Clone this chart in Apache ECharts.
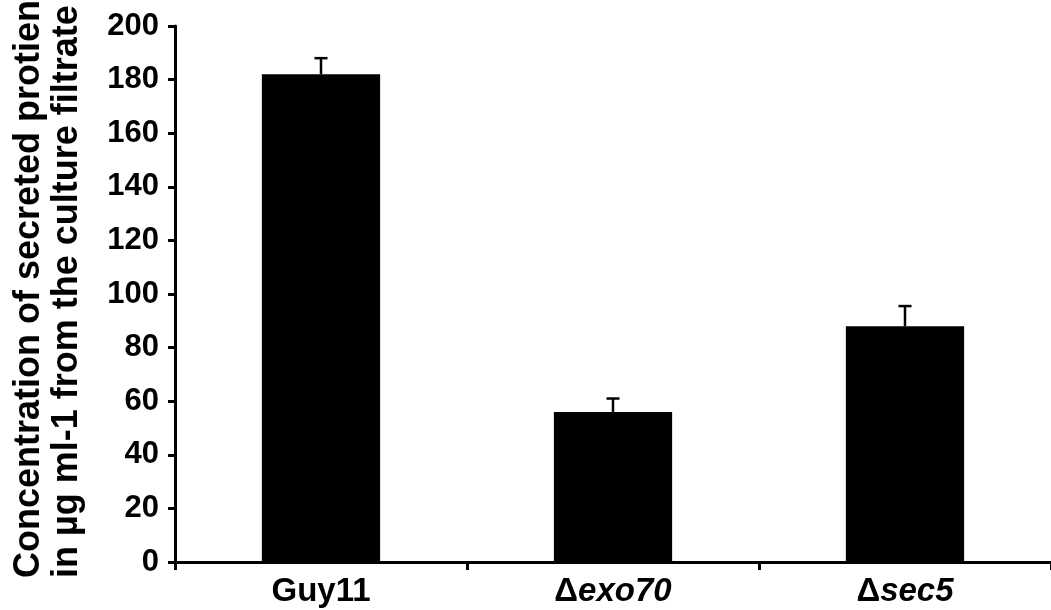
<!DOCTYPE html>
<html>
<head>
<meta charset="utf-8">
<script src="https://cdn.jsdelivr.net/npm/echarts@6/dist/echarts.min.js"></script>
<style>html,body{margin:0;padding:0;background:#fff;}#c{width:1051px;height:610px;}</style>
</head>
<body>
<div id="c"></div>
<script>
var categories = ['Guy11', 'exo70', 'sec5'];
var categoryLabels = ['Guy11', '{d|Δ}{i|exo70}', '{d|Δ}{i|sec5}'];
var values = [182, 56, 88];
var errors = [6, 5, 7.5];
var yTicks = [0, 20, 40, 60, 80, 100, 120, 140, 160, 180, 200];
var yNameLines = ['Concentration of secreted protien', 'in µg ml-1 from the culture filtrate'];

var chart = echarts.init(document.getElementById('c'));
var font = 'Liberation Sans, Arial, Helvetica, sans-serif';
chart.setOption({
  animation: false,
  backgroundColor: '#fff',
  grid: { left: 175, top: 26, height: 536, width: 883 },
  xAxis: {
    type: 'category',
    data: categories,
    boundaryGap: true,
    axisLine: { lineStyle: { color: '#000', width: 3 } },
    axisTick: { show: true, length: 8, lineStyle: { color: '#000', width: 3 } },
    axisLabel: {
      margin: 13,
      color: '#000',
      fontFamily: font,
      fontWeight: 'bold',
      fontSize: 33,
      formatter: function (v, i) { return categoryLabels[i]; },
      rich: {
        d: { fontFamily: font, fontWeight: 'bold', fontSize: 33, color: '#000' },
        i: { fontFamily: font, fontWeight: 'bold', fontStyle: 'italic', fontSize: 33, color: '#000' }
      }
    }
  },
  yAxis: {
    type: 'value',
    min: yTicks[0],
    max: yTicks[yTicks.length - 1],
    interval: 20,
    splitLine: { show: false },
    axisLine: { show: true, lineStyle: { color: '#000', width: 3 } },
    axisTick: { show: true, length: 7, lineStyle: { color: '#000', width: 3 } },
    axisLabel: {
      margin: 16,
      color: '#000',
      fontFamily: font,
      fontWeight: 'bold',
      fontSize: 31
    }
  },
  graphic: [
    { type: 'text', x: 29, y: 578, rotation: Math.PI / 2,
      style: { text: yNameLines[0], fill: '#000', font: 'bold 36px ' + font, align: 'left', verticalAlign: 'middle' } },
    { type: 'text', x: 67, y: 578, rotation: Math.PI / 2,
      style: { text: yNameLines[1], fill: '#000', font: 'bold 36px ' + font, align: 'left', verticalAlign: 'middle' } }
  ],
  series: [
    {
      type: 'bar',
      data: values,
      barWidth: '40.5%',
      itemStyle: { color: '#000' },
      z: 2
    },
    {
      type: 'custom',
      z: 3,
      data: values.map(function (v, i) { return [i, v, v + errors[i]]; }),
      renderItem: function (params, api) {
        var base = api.coord([api.value(0), api.value(1)]);
        var top = api.coord([api.value(0), api.value(2)]);
        var hw = 6.5;
        return {
          type: 'group',
          children: [
            { type: 'line', shape: { x1: base[0], y1: base[1], x2: top[0], y2: top[1] }, style: { stroke: '#000', lineWidth: 2.5 } },
            { type: 'line', shape: { x1: top[0] - hw, y1: top[1], x2: top[0] + hw, y2: top[1] }, style: { stroke: '#000', lineWidth: 2.5 } }
          ]
        };
      }
    }
  ]
});
</script>
</body>
</html>
